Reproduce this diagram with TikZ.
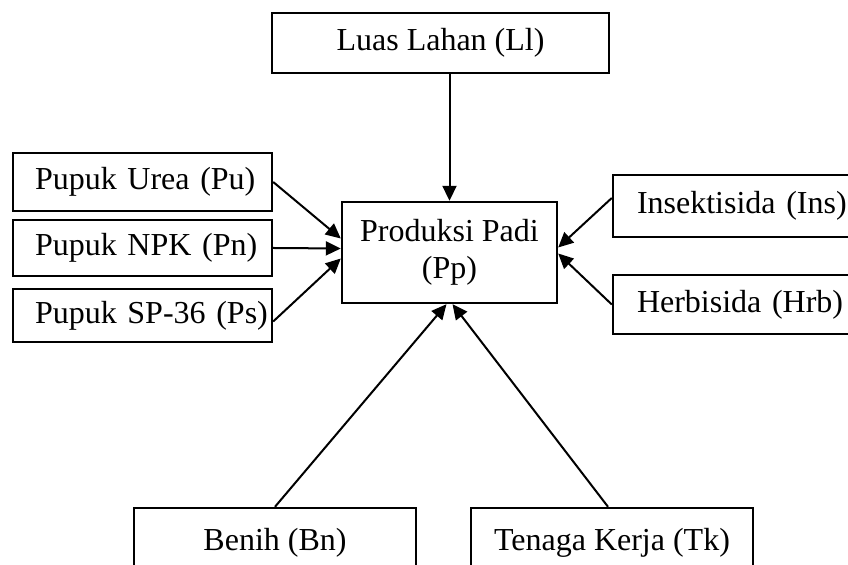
\documentclass[tikz,border=0pt]{standalone}
\usepackage{fontspec}
\setmainfont{Liberation Serif}
\usetikzlibrary{arrows.meta,calc}

\begin{document}
\begin{tikzpicture}[x=0.5pt,y=-0.5pt,
    kotak/.style={draw,line width=1.2pt,inner sep=0pt,font=\fontsize{16}{18.5}\selectfont},
    kiri/.style={kotak,align=left,inner xsep=11pt,text width=107.5pt},
    panah/.style={-{Triangle[length=7.5pt,width=7pt]},line width=1pt}]
\useasboundingbox (0,0) rectangle (848,565);
\clip (0,0) rectangle (848,565);

% kotak tengah dan atas
\node[kotak,minimum width=168.5pt,minimum height=30pt] (ll) at (440.5,43) {Luas Lahan (Ll)};
\node[kotak,align=center,minimum width=107.5pt,minimum height=50.5pt] (pp) at (449.5,252.5) {Produksi Padi\\(Pp)};

% pupuk di kiri
\foreach \n/\y/\h/\t in {pu/182/29pt/Pupuk Urea (Pu),pn/248/28pt/Pupuk NPK (Pn),ps/315.5/26.5pt/Pupuk SP-36 (Ps)}
    \node[kiri,minimum height=\h] (\n) at (142.5,\y) {\mbox{\t}};

% obat di kanan
\node[kiri,inner xsep=12pt,text width=106pt,minimum height=31pt] (ins) at (743,206) {\mbox{Insektisida (Ins)}};
\node[kiri,inner xsep=12pt,text width=106pt,minimum height=29.5pt] (hrb) at (743,304.5) {\mbox{Herbisida (Hrb)}};

% benih dan tenaga kerja di bawah
\node[kotak,minimum width=141pt,minimum height=35pt] (bn) at (275,543) {Benih (Bn)};
\node[kotak,minimum width=141pt,minimum height=35pt] (tk) at (612,543) {Tenaga Kerja (Tk)};

% panah ke produksi
\draw [panah] (ll.south -| pp.north)--(pp.north);
\draw [panah] (pu.east)--($(pp.west)+(0,-14)$);
\draw [panah] (pn.east)--($(pp.west)+(0,-4)$);
\draw [panah] ($(ps.east)+(0,6)$)--($(pp.west)+(0,6)$);
\draw [panah] ($(ins.west)+(0,-8)$)--($(pp.east)+(0,-5)$);
\draw [panah] (hrb.west)--($(pp.east)+(0,1)$);
\draw [panah] (bn.north)--($(pp.south)+(-3,0)$);
\draw [panah] ($(tk.north)+(-4,0)$)--($(pp.south)+(3,0)$);
\end{tikzpicture}
\end{document}
